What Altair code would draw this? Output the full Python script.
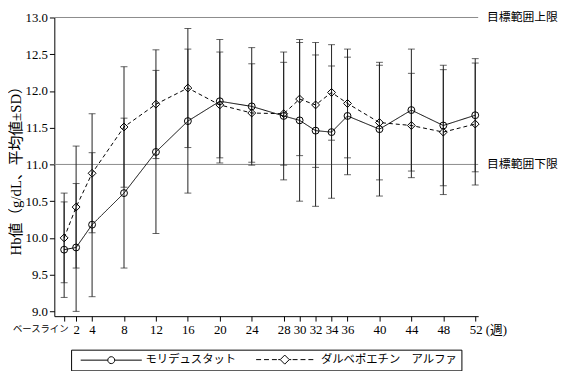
import altair as alt
import pandas as pd

# ---- data ----
week_labels = ["ベースライン", "2", "4", "8", "12", "16", "20", "24", "28", "30",
               "32", "34", "36", "40", "44", "48", "52"]
week_pos = [0.5, 2, 4, 8, 12, 16, 20, 24, 28, 30, 32, 34, 36, 40, 44, 48, 52]

mori_mean = [9.84, 9.87, 10.18, 10.61, 11.17, 11.59, 11.86, 11.79, 11.66, 11.60,
             11.46, 11.44, 11.66, 11.48, 11.74, 11.53, 11.67]
mori_sd = [0.65, 0.87, 0.98, 1.02, 1.11, 0.98, 0.84, 0.80, 0.87, 1.10,
           1.03, 0.90, 0.80, 0.91, 0.83, 0.82, 0.77]

darbe_mean = [10.00, 10.42, 10.88, 11.51, 11.82, 12.04, 11.81, 11.70, 11.69, 11.89,
              11.81, 11.98, 11.83, 11.57, 11.53, 11.44, 11.55]
darbe_sd = [0.61, 0.83, 0.81, 0.82, 0.74, 0.81, 0.72, 0.67, 0.70, 0.77,
            0.85, 0.65, 0.74, 0.78, 0.71, 0.85, 0.83]

series_names = ["モリデュスタット", "ダルベポエチン\u3000アルファ"]
target_values = [13.0, 11.0]
target_labels = ["目標範囲上限", "目標範囲下限"]
y_ticks = [9.0, 9.5, 10.0, 10.5, 11.0, 11.5, 12.0, 12.5, 13.0]
unit_label = "(週)"
y_title = "Hb値（g/dL、平均値±SD）"

# ---- tables ----
rows = []
for name, means, sds in [(series_names[0], mori_mean, mori_sd),
                         (series_names[1], darbe_mean, darbe_sd)]:
    for p, lab, m, s in zip(week_pos, week_labels, means, sds):
        rows.append({"series": name, "week": p, "label": lab, "mean": m,
                     "lo": round(m - s, 3), "hi": round(m + s, 3)})
df = pd.DataFrame(rows)
targets = pd.DataFrame({"value": target_values, "text": target_labels})

W, H = 430, 303
SERIF = "Liberation Serif, Noto Sans CJK JP"

label_map = "{" + ",".join(f"'{p}':'{l}'" for p, l in zip(week_pos, week_labels)) + "}"
label_expr = (f"datum.value == {week_pos[-1]} ? '{week_labels[-1]} {unit_label}' : "
              f"{label_map}[''+datum.value]")

x_axis = alt.Axis(
    values=week_pos, labelExpr=label_expr, title=None, grid=False,
    labelFont=SERIF, labelFontSize={"condition": {"test": "datum.value < 1", "value": 9.5}, "value": 13},
    labelAlign={"condition": [{"test": "datum.value < 1", "value": "right"},
                              {"test": f"datum.value == {week_pos[-1]}", "value": "left"}],
                "value": "center"},
    labelOffset={"condition": [{"test": "datum.value < 1", "value": 4},
                               {"test": f"datum.value == {week_pos[-1]}", "value": -6}],
                 "value": 0},
    labelPadding=3, tickSize=5, labelColor="black", domainColor="black", tickColor="black",
    labelOverlap=False,
)
x_scale = alt.Scale(domain=[-0.73, 52.37], nice=False, zero=False)

y_axis = alt.Axis(
    values=y_ticks, format=".1f", title=y_title, grid=False,
    labelFont=SERIF, labelFontSize=13, labelColor="black", labelPadding=2,
    tickSize=5, domainColor="black", tickColor="black",
    titleFont=SERIF, titleFontSize=15, titleFontWeight="normal", titleColor="black",
    titlePadding=2,
)
y_scale = alt.Scale(domain=[8.935, 13.0], nice=False, zero=False)

X = alt.X("week:Q", scale=x_scale, axis=x_axis)
Y = alt.Y("mean:Q", scale=y_scale, axis=y_axis)

base = alt.Chart(df)

target_rules = alt.Chart(targets).mark_rule(color="#8a8a8a", strokeWidth=1).encode(
    y=alt.Y("value:Q", scale=y_scale, axis=y_axis)
)
target_text = alt.Chart(targets).mark_text(
    align="left", baseline="middle", font="Noto Sans CJK JP", fontSize=12, color="black"
).encode(
    x=alt.value(W + 9),
    y=alt.Y("value:Q", scale=y_scale, axis=y_axis),
    text="text:N",
)

err_rules = base.mark_rule(color="#222222", strokeWidth=1).encode(
    x=X, y=alt.Y("lo:Q", scale=y_scale, axis=y_axis), y2="hi:Q"
)
cap_lo = base.mark_tick(orient="horizontal", size=7, thickness=1, color="#222222").encode(
    x=X, y=alt.Y("lo:Q", scale=y_scale, axis=y_axis)
)
cap_hi = base.mark_tick(orient="horizontal", size=7, thickness=1, color="#222222").encode(
    x=X, y=alt.Y("hi:Q", scale=y_scale, axis=y_axis)
)

lines = base.mark_line(color="black", strokeWidth=1).encode(
    x=X, y=Y,
    strokeDash=alt.StrokeDash("series:N", scale=alt.Scale(domain=series_names, range=[[1, 0], [4, 3]]),
                              legend=None),
    detail="series:N",
)

points = base.mark_point(filled=False, color="black", strokeWidth=1, opacity=1).encode(
    x=X, y=Y,
    shape=alt.Shape("series:N", scale=alt.Scale(domain=series_names, range=["circle", "diamond"]),
                    legend=None),
    size=alt.Size("series:N", scale=alt.Scale(domain=series_names, range=[49, 64]), legend=None),
)

solid_sym = ("M0,0H6.875 M8.625,0H15.5 "
             "M6.875,0A0.875,0.875 0 1,0 8.625,0A0.875,0.875 0 1,0 6.875,0")
dashed_sym = ("M0,0H1.25 M2,0H3.25 M4,0H5.25 M5.6,0H6.1 "
              "M6.1,0L7.25,-1.15L8.4,0L7.25,1.15Z "
              "M8.4,0H8.9 M9.25,0H10.5 M11.25,0H12.5 M13.25,0H14.5")

legend_layer = base.mark_point(filled=False, color="black", opacity=1).encode(
    shape=alt.Shape(
        "series:N",
        scale=alt.Scale(domain=series_names, range=[solid_sym, dashed_sym]),
        legend=alt.Legend(
            title=None, orient="none", legendX=17, legendY=337, direction="horizontal",
            strokeColor="black", padding=4, symbolSize=64, symbolStrokeColor="black",
            symbolStrokeWidth=1, symbolFillColor="transparent",
            labelFont="Noto Sans CJK JP", labelFontSize=11.5, labelColor="black",
            labelOffset=60, columnPadding=14,
        ),
    )
).transform_filter("false")

chart = alt.layer(
    target_rules, target_text, err_rules, cap_lo, cap_hi, lines, points, legend_layer
).resolve_scale(
    shape="independent"
).properties(
    width=W, height=H,
    autosize=alt.AutoSizeParams(type="none"),
    padding={"left": 47, "top": 7, "right": 83, "bottom": 53},
).configure_view(stroke=None)

chart.save("out.html", embed_options={"renderer": "svg", "actions": False})
